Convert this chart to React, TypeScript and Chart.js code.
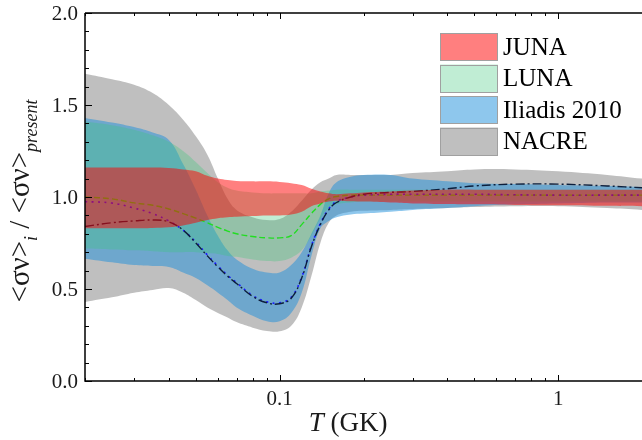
import React, { useEffect, useRef } from 'react';
import { Chart, registerables } from 'chart.js';

Chart.register(...registerables);

// Temperature grid (GK)
const T = [0.02, 0.025, 0.03, 0.035, 0.04, 0.045, 0.05, 0.055, 0.06, 0.065, 0.07, 0.08, 0.09, 0.1, 0.11, 0.12, 0.13, 0.14, 0.15, 0.16, 0.18, 0.2, 0.25, 0.3, 0.4, 0.5, 0.7, 1, 1.5, 2];

// NACRE band (gray)
const nacreUpper = [1.67, 1.64, 1.61, 1.565, 1.5, 1.42, 1.33, 1.23, 1.1, 0.99, 0.93, 0.89, 0.875, 0.88, 0.92, 0.98, 1.04, 1.08, 1.1, 1.12, 1.12, 1.12, 1.12, 1.13, 1.14, 1.15, 1.15, 1.14, 1.12, 1.1];
const nacreLower = [0.43, 0.455, 0.48, 0.495, 0.505, 0.48, 0.44, 0.4, 0.37, 0.345, 0.32, 0.29, 0.272, 0.27, 0.3, 0.4, 0.57, 0.75, 0.86, 0.9, 0.92, 0.925, 0.93, 0.935, 0.94, 0.945, 0.95, 0.95, 0.94, 0.93];

// Iliadis 2010 band (blue)
const iliadisUpper = [1.43, 1.405, 1.38, 1.35, 1.31, 1.18, 1.04, 0.9, 0.79, 0.71, 0.66, 0.61, 0.59, 0.59, 0.63, 0.7, 0.8, 0.9, 1.02, 1.08, 1.11, 1.12, 1.12, 1.1, 1.085, 1.075, 1.07, 1.065, 1.06, 1.055];
const iliadisLower = [0.665, 0.645, 0.63, 0.625, 0.62, 0.59, 0.56, 0.52, 0.48, 0.44, 0.4, 0.355, 0.325, 0.325, 0.37, 0.48, 0.68, 0.83, 0.87, 0.89, 0.905, 0.91, 0.92, 0.93, 0.94, 0.95, 0.96, 0.965, 0.97, 0.97];

// LUNA band (green)
const lunaUpper = [1.41, 1.39, 1.365, 1.335, 1.3, 1.25, 1.19, 1.13, 1.08, 1.05, 1.035, 1.025, 1.02, 1.02, 1.02, 1.02, 1.02, 1.03, 1.035, 1.04, 1.04, 1.04, 1.04, 1.04, 1.04, 1.04, 1.04, 1.04, 1.04, 1.04];
const lunaLower = [0.72, 0.715, 0.71, 0.705, 0.7, 0.7, 0.7, 0.695, 0.69, 0.68, 0.675, 0.66, 0.652, 0.652, 0.67, 0.71, 0.79, 0.88, 0.94, 0.96, 0.97, 0.975, 0.975, 0.975, 0.975, 0.975, 0.975, 0.975, 0.975, 0.975];

// JUNA band (red)
const junaUpper = [1.16, 1.16, 1.16, 1.16, 1.158, 1.15, 1.14, 1.115, 1.1, 1.092, 1.087, 1.085, 1.085, 1.082, 1.075, 1.065, 1.045, 1.03, 1.02, 1.015, 1.02, 1.025, 1.03, 1.035, 1.04, 1.04, 1.04, 1.04, 1.04, 1.04];
const junaLower = [0.83, 0.83, 0.83, 0.832, 0.835, 0.845, 0.86, 0.875, 0.885, 0.89, 0.893, 0.897, 0.9, 0.9, 0.905, 0.92, 0.95, 0.965, 0.975, 0.98, 0.977, 0.975, 0.97, 0.965, 0.962, 0.96, 0.957, 0.955, 0.952, 0.95];

// Central lines
const dashDotLine = [0.84, 0.86, 0.87, 0.875, 0.865, 0.82, 0.75, 0.68, 0.62, 0.57, 0.53, 0.46, 0.425, 0.42, 0.45, 0.56, 0.73, 0.85, 0.93, 0.97, 1.0, 1.015, 1.025, 1.03, 1.045, 1.06, 1.07, 1.07, 1.06, 1.05];
const dottedLine = [0.975, 0.967, 0.94, 0.91, 0.87, 0.82, 0.755, 0.685, 0.625, 0.575, 0.535, 0.465, 0.43, 0.425, 0.455, 0.565, 0.735, 0.855, 0.935, 0.975, 1.0, 1.01, 1.015, 1.015, 1.015, 1.015, 1.012, 1.01, 1.01, 1.01];
const dashedLine = [1.0, 0.99, 0.968, 0.955, 0.935, 0.91, 0.885, 0.86, 0.835, 0.815, 0.8, 0.785, 0.778, 0.778, 0.79, 0.85, 0.91, 0.96, 0.99, 1.003, 1.01, 1.01, 1.01, 1.01, 1.01, 1.01, 1.01, 1.01, 1.01, 1.01];

// Ticks
const xMajorTicks = [0.1, 1];
const xMajorLabels = ['0.1', '1'];
const xMinorTicks = [0.02, 0.03, 0.04, 0.05, 0.06, 0.07, 0.08, 0.09, 0.2, 0.3, 0.4, 0.5, 0.6, 0.7, 0.8, 0.9, 2];
const yMajorTicks = [0, 0.5, 1, 1.5, 2];
const yMajorLabels = ['0.0', '0.5', '1.0', '1.5', '2.0'];
const yMinorTicks = [0.1, 0.2, 0.3, 0.4, 0.6, 0.7, 0.8, 0.9, 1.1, 1.2, 1.3, 1.4, 1.6, 1.7, 1.8, 1.9];

const legendLabels = ['JUNA', 'LUNA', 'Iliadis 2010', 'NACRE'];

const RED = 'rgba(255,0,0,0.5)';
const GREEN = 'rgba(60,200,120,0.32)';
const BLUE = 'rgba(30,144,220,0.5)';
const GRAY = 'rgba(128,128,128,0.5)';
const legendColors = [RED, GREEN, BLUE, GRAY];

const SERIF = '"Liberation Serif", "Times New Roman", serif';
const TENSION = 0.4;

const pts = (ys: number[]) => T.map((t, i) => ({ x: t, y: ys[i] }));

function bandSets(name: string, upper: number[], lower: number[], color: string, order: number) {
  return [
    {
      label: name + ' upper',
      data: pts(upper),
      borderColor: 'rgba(0,0,0,0)',
      borderWidth: 0,
      pointRadius: 0,
      backgroundColor: color,
      fill: '+1',
      order,
      tension: TENSION,
    },
    {
      label: name + ' lower',
      data: pts(lower),
      borderColor: 'rgba(0,0,0,0)',
      borderWidth: 0,
      pointRadius: 0,
      fill: false,
      order,
      tension: TENSION,
    },
  ];
}

function lineSet(name: string, ys: number[], color: string, dash: number[], width: number) {
  return {
    label: name,
    data: pts(ys),
    borderColor: color,
    borderWidth: width,
    borderDash: dash,
    pointRadius: 0,
    fill: false,
    order: 2,
    tension: TENSION,
  };
}

const decorPlugin = {
  id: 'decor',
  afterDraw(chart: any) {
    const { ctx, chartArea: a, scales } = chart;
    const x = scales.x;
    const y = scales.y;
    ctx.save();
    ctx.strokeStyle = '#000';
    ctx.lineWidth = 1.5;
    ctx.beginPath();
    ctx.moveTo(a.left, a.top);
    ctx.lineTo(a.right, a.top);
    ctx.moveTo(a.left, a.top);
    ctx.lineTo(a.left, a.bottom);
    ctx.lineTo(a.right, a.bottom);
    ctx.stroke();

    ctx.lineWidth = 1;
    ctx.beginPath();
    const xt = (v: number, len: number) => {
      const px = Math.round(x.getPixelForValue(v)) + 0.5;
      ctx.moveTo(px, a.bottom);
      ctx.lineTo(px, a.bottom - len);
      ctx.moveTo(px, a.top);
      ctx.lineTo(px, a.top + len);
    };
    xMinorTicks.forEach((v) => xt(v, 3));
    xMajorTicks.forEach((v) => xt(v, 6));
    const yt = (v: number, len: number) => {
      const py = Math.round(y.getPixelForValue(v)) + 0.5;
      ctx.moveTo(a.left, py);
      ctx.lineTo(a.left + len, py);
    };
    yMinorTicks.forEach((v) => yt(v, 4));
    yMajorTicks.forEach((v) => yt(v, 7));
    ctx.stroke();

    // tick labels
    ctx.fillStyle = '#1a1a1a';
    ctx.font = '21px ' + SERIF;
    ctx.textAlign = 'center';
    ctx.textBaseline = 'alphabetic';
    xMajorTicks.forEach((v, i) => {
      ctx.fillText(xMajorLabels[i], x.getPixelForValue(v), a.bottom + 24);
    });
    ctx.textAlign = 'right';
    ctx.textBaseline = 'middle';
    yMajorTicks.forEach((v, i) => {
      ctx.fillText(yMajorLabels[i], a.left - 7, y.getPixelForValue(v) + 1);
    });

    // x title: T (GK)
    ctx.textBaseline = 'alphabetic';
    ctx.textAlign = 'left';
    const f1 = 'italic 27px ' + SERIF;
    const f2 = '27px ' + SERIF;
    ctx.font = f1;
    const w1 = ctx.measureText('T').width;
    ctx.font = f2;
    const w2 = ctx.measureText(' (GK)').width;
    const sx = 348 - (w1 + w2) / 2;
    ctx.font = f1;
    ctx.fillText('T', sx, 431);
    ctx.font = f2;
    ctx.fillText(' (GK)', sx + w1, 431);

    // y title
    const segs = [
      { t: '<σν>', f: '29px ' + SERIF, dy: 0 },
      { t: 'i', f: 'italic 18px ' + SERIF, dy: 8 },
      { t: ' / ', f: '29px ' + SERIF, dy: 0 },
      { t: '<σν>', f: '29px ' + SERIF, dy: 0 },
      { t: 'present', f: 'italic 18px ' + SERIF, dy: 8 },
    ];
    let total = 0;
    segs.forEach((s) => {
      ctx.font = s.f;
      total += ctx.measureText(s.t).width;
    });
    ctx.save();
    ctx.translate(29, 201);
    ctx.rotate(-Math.PI / 2);
    let u = -total / 2;
    segs.forEach((s) => {
      ctx.font = s.f;
      ctx.fillText(s.t, u, s.dy);
      u += ctx.measureText(s.t).width;
    });
    ctx.restore();

    // legend
    legendLabels.forEach((lab, i) => {
      const by = 33 + i * 31.5;
      ctx.fillStyle = legendColors[i];
      ctx.fillRect(440, by, 58, 28);
      ctx.strokeStyle = '#a0a0a0';
      ctx.lineWidth = 1;
      ctx.strokeRect(440.5, Math.round(by) + 0.5, 57, 27);
      ctx.fillStyle = '#000';
      ctx.font = '25px ' + SERIF;
      ctx.textAlign = 'left';
      ctx.textBaseline = 'middle';
      ctx.fillText(lab, 503, by + 15);
    });
    ctx.restore();
  },
};

export default function App() {
  const ref = useRef<HTMLCanvasElement | null>(null);
  useEffect(() => {
    document.body.style.margin = '0';
    const canvas = ref.current;
    if (!canvas) return;
    const datasets: any[] = [
      ...bandSets('JUNA', junaUpper, junaLower, RED, 1),
      lineSet('dash-dot', dashDotLine, '#0d1f3c', [9, 3, 2, 3], 1.4),
      lineSet('dotted', dottedLine, '#1a1aff', [2, 4.5], 1.6),
      lineSet('dashed', dashedLine, '#22dd22', [6, 3], 1.4),
      ...bandSets('LUNA', lunaUpper, lunaLower, GREEN, 3),
      ...bandSets('Iliadis 2010', iliadisUpper, iliadisLower, BLUE, 4),
      ...bandSets('NACRE', nacreUpper, nacreLower, GRAY, 5),
    ];
    const chart = new Chart(canvas, {
      type: 'line',
      data: { datasets },
      options: {
        animation: false,
        responsive: false,
        devicePixelRatio: 1,
        layout: { padding: { left: 85, top: 13, right: 0, bottom: 59 } },
        scales: {
          x: { type: 'logarithmic', min: 0.02, max: 2, display: false },
          y: { type: 'linear', min: 0, max: 2, display: false },
        },
        plugins: {
          legend: { display: false },
          tooltip: { enabled: false },
          filler: { propagate: false },
        },
        elements: { line: { borderCapStyle: 'butt' } },
      },
      plugins: [decorPlugin],
    } as any);
    return () => chart.destroy();
  }, []);
  return (
    <div style={{ width: 642, height: 440, background: '#fff' }}>
      <canvas ref={ref} width={642} height={440} />
    </div>
  );
}
